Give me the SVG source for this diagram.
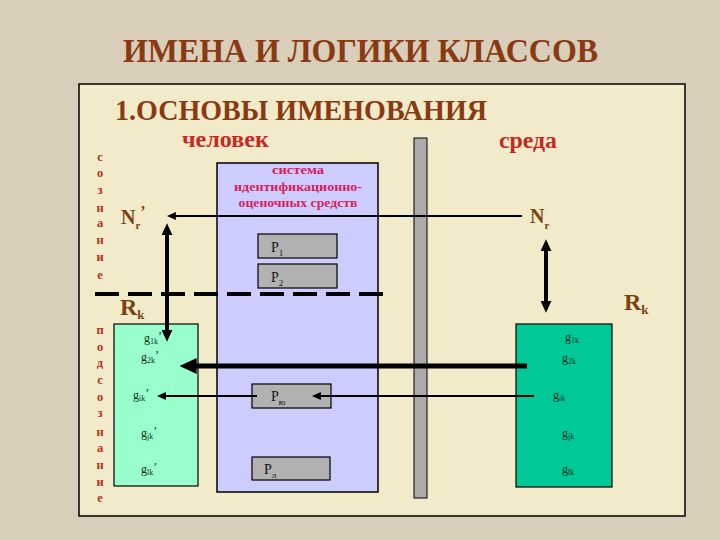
<svg xmlns="http://www.w3.org/2000/svg" width="720" height="540" viewBox="0 0 720 540">
<style>
.serif{font-family:"Liberation Serif","Times New Roman",serif}
.title{font-family:"Liberation Serif",serif;font-weight:bold;fill:#8a3a12}
.red{font-family:"Liberation Serif",serif;font-weight:bold;fill:#c42a22}
.vl{font-family:"Liberation Serif",serif;font-weight:bold;font-size:12.5px;fill:#b5301c;text-anchor:middle}
.br{font-family:"Liberation Serif",serif;font-weight:bold;fill:#7a4212}
.hdr{font-family:"Liberation Serif",serif;font-weight:bold;font-size:11.5px;fill:#d81e5b;text-anchor:middle}
.pbox{fill:#b2b2b2;stroke:#000;stroke-width:1.2}
.ptx{font-family:"Liberation Serif",serif;font-size:14px;fill:#111}
.g{font-family:"Liberation Serif",serif;font-size:12px;fill:#10301e}
.thin{stroke:#000;stroke-width:2;fill:none}
</style>
<defs>
<marker id="ahs" viewBox="0 0 10 10" markerWidth="9" markerHeight="8" refX="1" refY="5" orient="auto-start-reverse" markerUnits="userSpaceOnUse" preserveAspectRatio="none"><path d="M0,0 L10,5 L0,10 z" fill="#000"/></marker>
<marker id="ahm" viewBox="0 0 10 10" markerWidth="12" markerHeight="11" refX="1" refY="5" orient="auto-start-reverse" markerUnits="userSpaceOnUse" preserveAspectRatio="none"><path d="M0,0 L10,5 L0,10 z" fill="#000"/></marker>
<marker id="ahl" viewBox="0 0 10 10" markerWidth="17" markerHeight="16" refX="1" refY="5" orient="auto-start-reverse" markerUnits="userSpaceOnUse" preserveAspectRatio="none"><path d="M0,0 L10,5 L0,10 z" fill="#000"/></marker>
</defs>
<rect x="0" y="0" width="720" height="540" fill="#d8ceb9"/>
<text class="title" x="123" y="62" font-size="33" textLength="475" lengthAdjust="spacingAndGlyphs">ИМЕНА И ЛОГИКИ КЛАССОВ</text>
<rect id="panel" x="79" y="84" width="606" height="432" fill="#f1ebc9" stroke="#000" stroke-width="1.5"/>
<text class="title" x="115" y="120" font-size="30" fill="#7a2e0e" textLength="372" lengthAdjust="spacingAndGlyphs">1.ОСНОВЫ ИМЕНОВАНИЯ</text>
<text class="red" x="182" y="147" font-size="24" textLength="87" lengthAdjust="spacingAndGlyphs">человек</text>
<text class="red" x="499" y="148" font-size="24" textLength="58" lengthAdjust="spacingAndGlyphs">среда</text>
<g id="soznanie">
<text class="vl" x="100" y="161">с</text><text class="vl" x="100" y="177">о</text><text class="vl" x="100" y="194">з</text><text class="vl" x="100" y="212">н</text><text class="vl" x="100" y="227">а</text><text class="vl" x="100" y="244">н</text><text class="vl" x="100" y="261">и</text><text class="vl" x="100" y="279">е</text>
</g>
<g id="podsoznanie">
<text class="vl" x="100" y="334">п</text><text class="vl" x="100" y="351">о</text><text class="vl" x="100" y="367">д</text><text class="vl" x="100" y="384">с</text><text class="vl" x="100" y="401">о</text><text class="vl" x="100" y="417">з</text><text class="vl" x="100" y="436">н</text><text class="vl" x="100" y="452">а</text><text class="vl" x="100" y="469">н</text><text class="vl" x="100" y="486">и</text><text class="vl" x="100" y="502">е</text>
</g>
<g id="system">
<rect x="217" y="163" width="161" height="329" fill="#ccccff" stroke="#000" stroke-width="1.5"/>
<text class="hdr" x="298" y="174" textLength="52" lengthAdjust="spacingAndGlyphs">система</text>
<text class="hdr" x="298" y="191" textLength="128" lengthAdjust="spacingAndGlyphs">идентификационно-</text>
<text class="hdr" x="298" y="207" textLength="119" lengthAdjust="spacingAndGlyphs">оценочных средств</text>
</g>
<g id="p1"><rect class="pbox" x="258" y="234" width="79" height="24"/><text class="ptx" x="271" y="252">P<tspan font-size="9" dy="4">1</tspan></text></g>
<g id="p2"><rect class="pbox" x="258" y="264" width="79" height="24"/><text class="ptx" x="271" y="282">P<tspan font-size="9" dy="4">2</tspan></text></g>
<g id="pm"><rect class="pbox" x="252" y="384" width="79" height="24"/><text class="ptx" x="271" y="401">P<tspan font-size="9" dy="4">ю</tspan></text></g>
<g id="pn"><rect class="pbox" x="252" y="457" width="78" height="23"/><text class="ptx" x="264" y="474">P<tspan font-size="9" dy="4">л</tspan></text></g>
<g id="bar"><rect x="414" y="138" width="13" height="360" fill="#ababab" stroke="#000" stroke-width="1"/></g>
<line x1="95" y1="294" x2="385" y2="294" stroke="#000" stroke-width="4" stroke-dasharray="24 9"/>
<g id="left-set">
<rect x="114" y="324" width="84" height="162" fill="#99ffcc" stroke="#000" stroke-width="1.2"/>
<text class="g" x="144" y="342">g<tspan font-size="8" dy="2">1k</tspan><tspan dy="-4">’</tspan></text>
<text class="g" x="141" y="361">g<tspan font-size="8" dy="2">2k</tspan><tspan dy="-4">’</tspan></text>
<text class="g" x="133" y="399">g<tspan font-size="8" dy="2">ik</tspan><tspan dy="-4">’</tspan></text>
<text class="g" x="141" y="437">g<tspan font-size="8" dy="2">jk</tspan><tspan dy="-4">’</tspan></text>
<text class="g" x="141" y="473">g<tspan font-size="8" dy="2">lk</tspan><tspan dy="-4">’</tspan></text>
</g>
<g id="right-set">
<rect x="516" y="324" width="96" height="163" fill="#00c896" stroke="#000" stroke-width="1.2"/>
<text class="g" x="565" y="341">g<tspan font-size="8" dy="2">1k</tspan></text>
<text class="g" x="562" y="362">g<tspan font-size="8" dy="2">2k</tspan></text>
<text class="g" x="553" y="399">g<tspan font-size="8" dy="2">ik</tspan></text>
<text class="g" x="562" y="437">g<tspan font-size="8" dy="2">jk</tspan></text>
<text class="g" x="562" y="473">g<tspan font-size="8" dy="2">lk</tspan></text>
</g>
<g id="nr-left"><text class="br" x="121" y="224" font-size="20">N<tspan font-size="11" dy="5">r</tspan><tspan font-size="16" dy="-12">’</tspan></text></g>
<g id="nr-right"><text class="br" x="530" y="223" font-size="20">N<tspan font-size="11" dy="6">r</tspan></text></g>
<g id="rk-left"><text class="br" x="120" y="315" font-size="24">R<tspan font-size="13" dy="4">k</tspan></text></g>
<g id="rk-right"><text class="br" x="624" y="310" font-size="24">R<tspan font-size="13" dy="4">k</tspan></text></g>
<g id="connectors">
<line class="thin" x1="522" y1="216" x2="175" y2="216" marker-end="url(#ahs)"/>
<line x1="167" y1="234" x2="167" y2="331" stroke="#000" stroke-width="4" marker-start="url(#ahm)" marker-end="url(#ahm)"/>
<line x1="546" y1="250" x2="546" y2="302" stroke="#000" stroke-width="4" marker-start="url(#ahm)" marker-end="url(#ahm)"/>
<line x1="527" y1="366" x2="195" y2="366" stroke="#000" stroke-width="5" marker-end="url(#ahl)"/>
<line class="thin" x1="534" y1="396" x2="320" y2="396" marker-end="url(#ahs)"/>
<line class="thin" x1="257" y1="396" x2="165" y2="396" marker-end="url(#ahs)"/>
</g>
</svg>
